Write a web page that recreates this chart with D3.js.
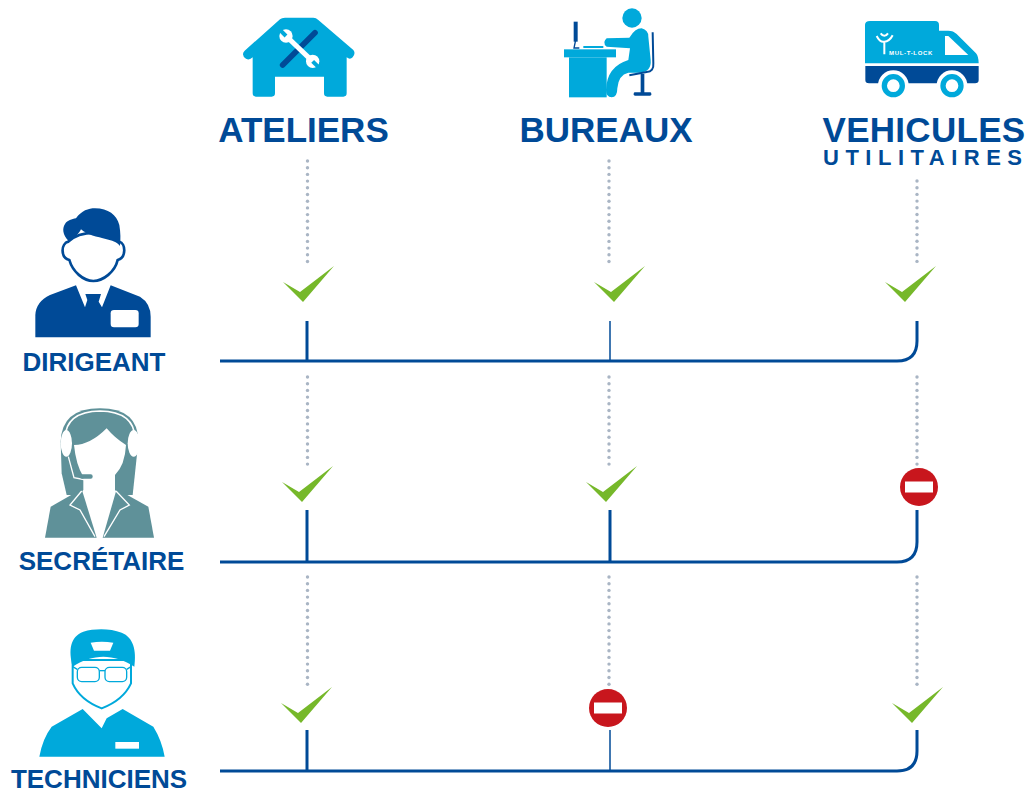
<!DOCTYPE html>
<html>
<head>
<meta charset="utf-8">
<script src="https://cdn.jsdelivr.net/npm/d3@7/dist/d3.min.js"></script>
<style>
  html, body { margin: 0; background: #fff; }
  svg { display: block; }
  text { font-family: "Liberation Sans", Arial, sans-serif; font-weight: bold; fill: #004a97; }
</style>
</head>
<body>
<svg width="1027" height="790" id="chart"></svg>
<script>
// data
var columns = ["ATELIERS", "BUREAUX", "VEHICULES"];
var columnSub = ["", "", "UTILITAIRES"];
var roles = ["DIRIGEANT", "SECRÉTAIRE", "TECHNICIENS"];
// 1 = access, 0 = no access (one list per column)
var atelierAccess = [1, 1, 1];
var bureauAccess = [1, 1, 0];
var vehiculeAccess = [1, 0, 1];

var width = 1027, height = 790;
var dark = "#004a97", light = "#00a9db", teal = "#5f9199";

var svg = d3.select("#chart");

var x = d3.scaleOrdinal().domain(columns).range([307, 610, 917]);
var y = d3.scaleOrdinal().domain(roles).range([361, 562, 771]);

var access = [atelierAccess, bureauAccess, vehiculeAccess];
var cells = [];
roles.forEach(function(r, i) {
  columns.forEach(function(c, j) {
    cells.push({ role: r, column: c, row: i, col: j, ok: access[j][i] });
  });
});

// small hand placement of the symbols, the source is not quite aligned
var markRise = [76, 77, 65];
var markShift = [[1, 9, -7], [0, 1, 2], [-1, -2, 0]];
var tickRise = [40, 52, 41];
var thinTick = { "0-1": true, "2-1": true };

// dotted guides
var guides = [[[161, 265], [377, 465], [577, 685]],
              [[161, 265], [377, 465], [577, 690]],
              [[181, 265], [377, 468], [577, 685]]];
var dots = svg.append("g").attr("class", "guides").attr("fill", "#a9b5c4");
columns.forEach(function(c, j) {
  guides[j].forEach(function(g) {
    dots.selectAll(null)
      .data(d3.range(g[0], g[1], 6.7))
      .enter().append("circle")
      .attr("cx", x(c) + (j == 0 ? 0.5 : j == 1 ? -1 : 0))
      .attr("cy", function(d) { return d; })
      .attr("r", 1.7);
  });
});

// row lines with the rounded end on the last column
var last = columns[columns.length - 1];
svg.append("g").selectAll("path")
  .data(roles)
  .enter().append("path")
  .attr("fill", "none")
  .attr("stroke", dark)
  .attr("stroke-width", 3)
  .attr("d", function(r, i) {
    var yy = y(r), xx = x(last);
    return "M220," + yy + "H" + (xx - 20) + "Q" + xx + "," + yy + " " + xx + "," + (yy - 20) + "V" + (yy - tickRise[i]);
  });

svg.append("g").selectAll("line")
  .data(cells.filter(function(d) { return d.col < 2; }))
  .enter().append("line")
  .attr("x1", function(d) { return x(d.column); })
  .attr("x2", function(d) { return x(d.column); })
  .attr("y1", function(d) { return y(d.role); })
  .attr("y2", function(d) { return y(d.role) - tickRise[d.row]; })
  .attr("stroke", dark)
  .attr("stroke-width", function(d) { return thinTick[d.row + "-" + d.col] ? 1.5 : 3; });

// check / no entry
var mark = svg.append("g").selectAll("g")
  .data(cells)
  .enter().append("g")
  .attr("transform", function(d) {
    return "translate(" + (x(d.column) + markShift[d.row][d.col]) + "," + (y(d.role) - markRise[d.row]) + ")";
  });

mark.filter(function(d) { return d.ok; }).append("path")
  .attr("d", "M-25,-3L-8,7L26,-19L-5,17Z")
  .attr("fill", "#76b82a");

var noEntry = mark.filter(function(d) { return !d.ok; }).append("g").attr("transform", "translate(0,2)");
noEntry.append("circle").attr("r", 19).attr("fill", "#c8161d");
noEntry.append("rect").attr("x", -14).attr("y", -5.5).attr("width", 28).attr("height", 11).attr("fill", "#fff");

// text
svg.append("g").selectAll("text")
  .data(columns)
  .enter().append("text")
  .attr("x", function(d, i) { return [303.5, 606, 924][i]; })
  .attr("y", 142)
  .attr("text-anchor", "middle")
  .attr("font-size", 35)
  .attr("letter-spacing", function(d, i) { return i == 2 ? 0.3 : 0; })
  .text(function(d) { return d; });

// last letter in its own tspan so no spacing trails past the edge
var sub = svg.append("text")
  .attr("x", 823)
  .attr("y", 165)
  .attr("font-size", 22)
  .attr("letter-spacing", 6.5);
sub.append("tspan").text(columnSub[2].slice(0, -1));
sub.append("tspan").attr("letter-spacing", 0).text(columnSub[2].slice(-1));

svg.append("g").selectAll("text")
  .data(roles)
  .enter().append("text")
  .attr("x", function(d, i) { return [94, 101.5, 99][i]; })
  .attr("y", function(d, i) { return [371, 570, 788][i]; })
  .attr("text-anchor", "middle")
  .attr("font-size", 26)
  .text(function(d) { return d; });

// pictograms, drawn at 3x and scaled down
function picto(ox, oy) {
  return svg.append("g").attr("transform", "translate(" + ox + "," + oy + ") scale(" + (1 / 3) + ")");
}

// house
var house = picto(200, 0);
house.append("path").attr("fill", light)
  .attr("d", "M240,58Q245,53 255,53L340,53Q348,53 355,60L460,150Q468,160 458,172Q450,180 440,172L440,280Q440,290 430,290L382,290Q372,290 372,280L372,230L225,230L225,280Q225,290 215,290L168,290Q158,290 158,280L158,172Q148,182 138,176Q122,165 134,152Z");
house.append("line").attr("x1", 248).attr("y1", 195).attr("x2", 345).attr("y2", 98)
  .attr("stroke", dark).attr("stroke-width", 17).attr("stroke-linecap", "round");
house.append("line").attr("x1", 258).attr("y1", 108).attr("x2", 338).attr("y2", 184)
  .attr("stroke", "#fff").attr("stroke-width", 15);
[[258, 108, -1, -1], [338, 184, 1, 1]].forEach(function(h) {
  house.append("circle").attr("cx", h[0]).attr("cy", h[1]).attr("r", 20).attr("fill", "#fff");
  house.append("line").attr("x1", h[0]).attr("y1", h[1])
    .attr("x2", h[0] + h[2] * 22).attr("y2", h[1] + h[3] * 22)
    .attr("stroke", light).attr("stroke-width", 12);
});

// desk
var desk = picto(540, 0);
desk.append("circle").attr("cx", 276).attr("cy", 54).attr("r", 29).attr("fill", light);
desk.append("rect").attr("x", 72).attr("y", 148).attr("width", 156).attr("height", 24).attr("fill", light);
desk.append("rect").attr("x", 87).attr("y", 172).attr("width", 113).attr("height", 120).attr("fill", light);
desk.append("path").attr("fill", light)
  .attr("d", "M200,115L268,113Q285,85 305,85Q325,90 325,110L332,180Q335,215 300,218L265,218Q235,225 232,265Q232,292 215,292Q198,292 198,270Q200,200 265,180L270,145L200,140Q185,128 200,115Z");
desk.append("path").attr("fill", "none").attr("stroke", dark).attr("stroke-width", 6)
  .attr("d", "M338,97L340,190Q342,215 320,216L268,226");
desk.append("line").attr("x1", 107).attr("y1", 65).attr("x2", 107).attr("y2", 125).attr("stroke", dark).attr("stroke-width", 12);
desk.append("path").attr("fill", "none").attr("stroke", dark).attr("stroke-width", 4).attr("d", "M107,120L102,144H118");
desk.append("rect").attr("x", 130).attr("y", 138).attr("width", 60).attr("height", 6).attr("fill", light);
desk.append("rect").attr("x", 302).attr("y", 222).attr("width", 11).attr("height", 60).attr("fill", dark);
desk.append("rect").attr("x", 281).attr("y", 277).attr("width", 53).attr("height", 10).attr("rx", 4).attr("fill", dark);

// van
var van = picto(540, 0);
van.append("path").attr("fill", light)
  .attr("d", "M990,63L1185,63Q1197,63 1197,75L1197,92L1225,92Q1240,92 1250,102L1308,160Q1316,170 1316,190L975,190L975,75Q975,63 990,63Z");
van.append("path").attr("fill", "#fff").attr("d", "M1215,108L1225,108L1285,165L1215,165Z");
van.append("path").attr("fill", dark)
  .attr("d", "M976,198L1316,198L1316,240Q1316,250 1305,250L987,250Q976,250 976,240Z");
[1060, 1236].forEach(function(cx) {
  van.append("circle").attr("cx", cx).attr("cy", 257).attr("r", 46).attr("fill", "#fff");
  van.append("circle").attr("cx", cx).attr("cy", 257).attr("r", 27).attr("fill", "#fff")
    .attr("stroke", light).attr("stroke-width", 16);
});
van.append("path").attr("fill", "none").attr("stroke", "#fff").attr("stroke-width", 6)
  .attr("d", "M1033,163V125M1010,108Q1020,128 1033,125Q1048,125 1058,106M1022,100Q1033,115 1044,100");
van.append("text").attr("x", 1047).attr("y", 165).attr("font-size", 18).attr("letter-spacing", 2).style("fill", "#fff").text("MUL-T-LOCK");

// dirigeant
var boss = picto(0, 200);
boss.append("path").attr("fill", dark)
  .attr("d", "M106,412L106,345Q108,305 150,285L228,256L255,322L262,300L256,282L303,282L296,305L306,322L332,256L420,290Q452,310 452,350L452,412Z");
boss.append("rect").attr("x", 332).attr("y", 330).attr("width", 84).attr("height", 52).attr("rx", 10).attr("fill", "#fff");
boss.append("path").attr("fill", "#fff").attr("stroke", dark).attr("stroke-width", 8)
  .attr("d", "M205,125C183,130 180,172 208,180C218,215 250,243 280,243C310,243 345,215 353,180C380,172 377,130 358,125C330,90 240,90 205,125Z");
boss.append("path").attr("fill", dark)
  .attr("d", "M205,122C188,105 186,85 195,72C203,60 215,58 228,55C245,32 265,25 285,25C325,25 350,45 358,75C362,100 362,118 360,138C350,125 335,122 320,118C290,110 262,105 243,88C235,105 220,115 205,122Z");

// secretaire
var sec = picto(0, 395);
sec.append("path").attr("fill", teal)
  .attr("d", "M182,140Q185,40 300,40Q415,40 415,140L405,235L398,300L200,300L185,235Z");
sec.append("path").attr("fill", "#fff")
  .attr("d", "M222,150Q270,150 320,100Q345,130 378,150Q375,210 345,240L345,285L390,330L310,428L290,428L208,330L250,285L250,245Q228,210 222,150Z");
sec.append("path").attr("fill", teal).attr("d", "M135,428L152,335L245,282L290,428Z");
sec.append("path").attr("fill", teal).attr("d", "M308,428L350,282L445,335L462,428Z");
sec.append("path").attr("fill", "none").attr("stroke", "#fff").attr("stroke-width", 4)
  .attr("d", "M245,288L210,330L240,345L285,425M348,288L388,330L360,345L312,425");
sec.append("path").attr("fill", "none").attr("stroke", "#fff").attr("stroke-width", 5)
  .attr("d", "M195,130Q197,50 300,48Q403,50 405,130");
sec.append("ellipse").attr("cx", 199).attr("cy", 145).attr("rx", 17).attr("ry", 40).attr("fill", "#fff");
sec.append("ellipse").attr("cx", 401).attr("cy", 145).attr("rx", 18).attr("ry", 40).attr("fill", "#fff");
sec.append("path").attr("fill", "none").attr("stroke", "#fff").attr("stroke-width", 4).attr("d", "M205,185L222,248L258,255");
sec.append("rect").attr("x", 240).attr("y", 238).attr("width", 38).attr("height", 13).attr("rx", 6).attr("fill", teal);

// technicien
var tech = picto(0, 610);
tech.append("path").attr("fill", light)
  .attr("d", "M118,440Q128,385 155,350L248,297L305,355L320,325L368,297L460,350Q485,390 494,440Z");
tech.append("rect").attr("x", 346).attr("y", 396).attr("width", 71).attr("height", 20).attr("fill", "#fff");
tech.append("path").attr("fill", "#fff").attr("stroke", light).attr("stroke-width", 6)
  .attr("d", "M218,150L218,220Q240,270 305,295Q370,270 393,220L393,150Z");
tech.append("path").attr("fill", light)
  .attr("d", "M218,170C205,120 210,80 250,65C285,55 330,55 365,68C400,82 410,120 403,170C375,150 340,140 310,140C280,140 245,150 218,170Z");
tech.append("path").attr("fill", "#fff").attr("d", "M272,98Q305,92 340,98L330,122L282,122Z");
tech.append("g").attr("fill", "none").attr("stroke", light).attr("stroke-width", 4).call(function(g) {
  g.append("rect").attr("x", 232).attr("y", 172).attr("width", 66).attr("height", 43).attr("rx", 13);
  g.append("rect").attr("x", 315).attr("y", 172).attr("width", 65).attr("height", 43).attr("rx", 13);
  g.append("line").attr("x1", 298).attr("y1", 182).attr("x2", 315).attr("y2", 182);
  g.append("path").attr("d", "M232,178L218,170M380,178L393,170");
});
</script>
</body>
</html>
